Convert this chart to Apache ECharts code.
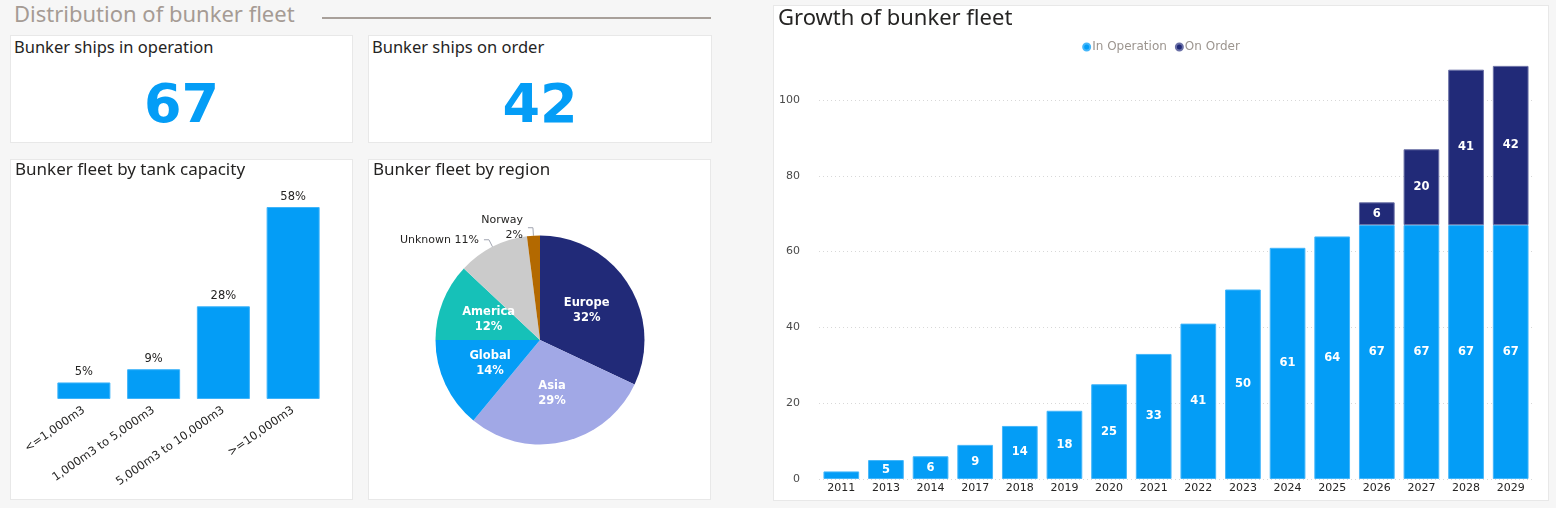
<!DOCTYPE html>
<html>
<head>
<meta charset="utf-8">
<script src="https://cdn.jsdelivr.net/npm/echarts@6/dist/echarts.min.js"></script>
<style>
  html, body { margin:0; padding:0; }
  body { width:1556px; height:508px; background:#f6f6f6; position:relative; overflow:hidden; font-family:"Noto Sans", "Open Sans", sans-serif; }
  .panel { position:absolute; background:#ffffff; border:1px solid #e8e8e8; box-sizing:border-box; }
  .hdr { position:absolute; left:14px; top:-1px; font-size:22px; font-weight:normal; color:#a59b94; line-height:28px; }
  .hline { position:absolute; left:322px; top:17px; width:389px; height:2px; background:#a8a09a; }
  .kpiTitle { position:absolute; left:3px; top:0px; font-size:16.5px; color:#252423; line-height:22px; }
  .kpiValue { position:absolute; left:0; right:0; top:36px; text-align:center; font-family:"DejaVu Sans", sans-serif; font-weight:bold; font-size:54px; color:#049df6; line-height:64px; }
  .chart { position:absolute; }
</style>
</head>
<body>
<div class="hdr">Distribution of bunker fleet</div>
<div class="hline"></div>

<div class="panel" style="left:10px;top:35px;width:343px;height:108px;">
  <div class="kpiTitle">Bunker ships in operation</div>
  <div class="kpiValue" id="kpi1"></div>
</div>
<div class="panel" style="left:368px;top:35px;width:344px;height:108px;">
  <div class="kpiTitle">Bunker ships on order</div>
  <div class="kpiValue" id="kpi2"></div>
</div>

<div class="panel" style="left:10px;top:159px;width:343px;height:341px;"></div>
<div class="panel" style="left:368px;top:159px;width:343px;height:341px;"></div>
<div class="panel" style="left:773px;top:5px;width:776px;height:496px;"></div>

<div class="chart" id="capChart" style="left:10px;top:159px;width:343px;height:341px;"></div>
<div class="chart" id="pieChart" style="left:368px;top:159px;width:343px;height:341px;"></div>
<div class="chart" id="growthChart" style="left:773px;top:5px;width:776px;height:496px;"></div>

<script>
// ---------- data ----------
const kpiInOperation = 67;
const kpiOnOrder = 42;

const capCategories = ['<=1,000m3', '1,000m3 to 5,000m3', '5,000m3 to 10,000m3', '>=10,000m3'];
const capShares = [5, 9, 28, 58];

const regions = ['Europe', 'Asia', 'Global', 'America', 'Unknown', 'Norway'];
const regionShares = [32, 29, 14, 12, 11, 2];

const years = ['2011','2013','2014','2017','2018','2019','2020','2021','2022','2023','2024','2025','2026','2027','2028','2029'];
const inOperation = [2, 5, 6, 9, 14, 18, 25, 33, 41, 50, 61, 64, 67, 67, 67, 67];
const onOrder = [null, null, null, null, null, null, null, null, null, null, null, null, 6, 20, 41, 42];

const yTicks = [0, 20, 40, 60, 80, 100];

// ---------- styles ----------
const BLUE = '#049df6';
const NAVY = '#212a78';
const regionColors = ['#212a78', '#a1a8e6', '#049df6', '#16c1b8', '#cbcbcb', '#b36900'];
const LBL = '"DejaVu Sans", sans-serif';
const TTL = '"Noto Sans", "Open Sans", sans-serif';

document.getElementById('kpi1').textContent = kpiInOperation;
document.getElementById('kpi2').textContent = kpiOnOrder;

// ---------- tank capacity bar ----------
const capChart = echarts.init(document.getElementById('capChart'));
capChart.setOption({
  animation: false,
  title: { text: 'Bunker fleet by tank capacity', left: 5, top: 3, padding: 0,
    textStyle: { fontFamily: TTL, fontSize: 17, fontWeight: 'normal', color: '#252423' } },
  grid: { left: 39, right: 25, top: 48, bottom: 101, containLabel: false },
  xAxis: { type: 'category', data: capCategories,
    axisLine: { show: false }, axisTick: { show: false },
    axisLabel: { rotate: 35, interval: 0, margin: 10, fontFamily: LBL, fontSize: 11.5, color: '#252423' } },
  yAxis: { type: 'value', min: 0, max: 'dataMax', show: false, splitLine: { show: false } },
  series: [{
    type: 'bar', data: capShares, barCategoryGap: '24%',
    itemStyle: { color: BLUE, borderColor: '#3fb4fa', borderWidth: 1 },
    label: { show: true, position: 'top', distance: 4, formatter: '{c}%', fontFamily: LBL, fontSize: 11.5, color: '#252423' }
  }]
});

// ---------- region pie ----------
const pieChart = echarts.init(document.getElementById('pieChart'));
const outsideRegions = { 'Unknown': '{b} {d}%', 'Norway': '{b}\n{d}%' };
pieChart.setOption({
  animation: false,
  title: { text: 'Bunker fleet by region', left: 5, top: 3, padding: 0,
    textStyle: { fontFamily: TTL, fontSize: 17, fontWeight: 'normal', color: '#252423' } },
  series: [{
    type: 'pie', center: [172, 181], radius: 104.5, startAngle: 90, clockwise: true,
    avoidLabelOverlap: false, percentPrecision: 0,
    data: regions.map((r, i) => {
      const item = { name: r, value: regionShares[i], itemStyle: { color: regionColors[i] } };
      if (outsideRegions[r]) {
        item.label = { position: 'outside', formatter: outsideRegions[r], color: '#252423', fontWeight: 'normal', fontSize: 11, lineHeight: 15 };
        item.labelLine = { show: true, length: 8, length2: 5, lineStyle: { color: '#a0a4b0', width: 1 } };
      }
      return item;
    }),
    label: { show: true, position: 'inside', formatter: '{b}\n{d}%', fontFamily: LBL, fontSize: 11.5, fontWeight: 'bold', color: '#ffffff', lineHeight: 15 },
    labelLine: { show: false }
  }]
});

// ---------- growth stacked bar ----------
const growthChart = echarts.init(document.getElementById('growthChart'));
growthChart.setOption({
  animation: false,
  title: { text: 'Growth of bunker fleet', left: 5, top: 3, padding: 0,
    textStyle: { fontFamily: TTL, fontSize: 22, fontWeight: 'normal', color: '#252423' } },
  legend: { top: 31, left: 'center', icon: 'circle', itemWidth: 7, itemHeight: 7, itemGap: 8,
    textStyle: { fontFamily: LBL, fontSize: 12, color: '#9c958f', padding: [0, 0, 0, -3] },
    data: ['In Operation', 'On Order'] },
  grid: { left: 46, right: 16, top: 95, bottom: 22, containLabel: false },
  xAxis: { type: 'category', data: years,
    axisLine: { show: false }, axisTick: { show: false },
    axisLabel: { margin: 4, fontFamily: LBL, fontSize: 11, color: '#252423' } },
  yAxis: { type: 'value', min: yTicks[0], max: yTicks[yTicks.length - 1], interval: yTicks[1] - yTicks[0],
    axisLine: { show: false }, axisTick: { show: false },
    axisLabel: { margin: 19, fontFamily: LBL, fontSize: 11, color: '#4a4a4a' },
    splitLine: { show: true, lineStyle: { color: '#d8d8d8', type: [1, 3], width: 1 } } },
  series: [
    { name: 'In Operation', type: 'bar', stack: 'fleet', data: inOperation, barCategoryGap: '20%', clip: false,
      itemStyle: { color: BLUE, borderColor: '#44b6fa', borderWidth: 1 },
      label: { show: true, position: 'inside', fontFamily: LBL, fontSize: 11.5, fontWeight: 'bold', color: '#ffffff',
        formatter: p => (p.value >= 4 ? String(p.value) : '') } },
    { name: 'On Order', type: 'bar', stack: 'fleet', data: onOrder, clip: false,
      itemStyle: { color: NAVY, borderColor: '#6a70a6', borderWidth: 1 },
      label: { show: true, position: 'inside', fontFamily: LBL, fontSize: 11.5, fontWeight: 'bold', color: '#ffffff' } }
  ]
});
</script>
</body>
</html>
